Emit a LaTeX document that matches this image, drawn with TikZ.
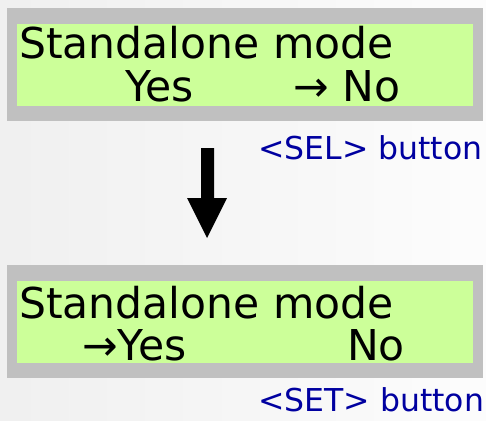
\documentclass[tikz,border=0pt]{standalone}
\usepackage{fontspec}
\setmainfont{DejaVu Sans}
\definecolor{lcdgreen}{RGB}{204,255,153}
\definecolor{framegray}{RGB}{192,192,192}
\definecolor{btnblue}{RGB}{0,0,160}

\begin{document}
\begin{tikzpicture}[x=1pt,y=-1pt,
frame/.style={draw=none, fill=framegray, inner sep=0pt, minimum width=476pt, minimum height=113pt, anchor=north west},
screen/.style={draw=none, fill=lcdgreen, inner sep=0pt, minimum width=456pt, minimum height=82pt, anchor=north west},
lcdtext/.style={inner sep=0pt, anchor=base west, font=\fontsize{42.5}{50}\selectfont},
btntext/.style={inner sep=0pt, anchor=base west, text=btnblue, font=\fontsize{31.5}{37}\selectfont}
]
    \useasboundingbox (0,0) rectangle (486,420);
    \shade[left color=gray!12, right color=gray!2] (0,0) rectangle (486,420);

    % first display: No selected
    \node [frame] (f1) at (7,8) {};
    \node [screen] (s1) at (17,24) {};
    \node [lcdtext] (t1) at (19,59) {Standalone mode};
    \node [lcdtext] (y1) at (125,101) {Yes};
    \node [lcdtext] (n1) at (293,101) {→ No};

    \node [btntext] (sel) at (258,159) {<SEL> button};

    % big arrow
    \fill (201,148) -- (214,148) -- (214,198) -- (227,198) -- (207,238)
        -- (187,198) -- (201,198) -- cycle;

    % second display: Yes selected
    \node [frame] (f2) at (7,265) {};
    \node [screen] (s2) at (17,281) {};
    \node [lcdtext] (t2) at (19,318) {Standalone mode};
    \node [lcdtext] (y2) at (82,360) {→Yes};
    \node [lcdtext] (n2) at (347,360) {No};

    \node [btntext] (set) at (258,411) {<SET> button};
\end{tikzpicture}
\end{document}
